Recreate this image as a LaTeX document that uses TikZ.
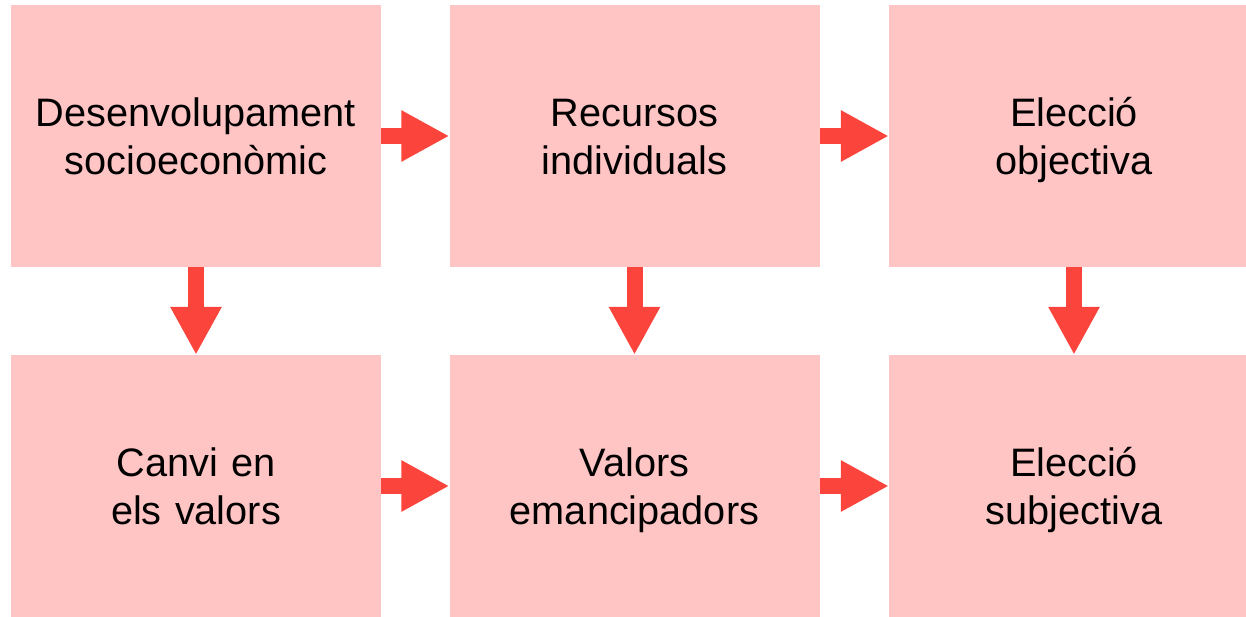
\documentclass[tikz,border=0pt]{standalone}
\usepackage{fontspec}
\setmainfont{Liberation Sans}
\usetikzlibrary{arrows.meta}
\definecolor{boxpink}{RGB}{255,196,196}
\definecolor{arrowred}{RGB}{250,68,60}
\newcommand\linestrut{\rule[-10pt]{0pt}{48pt}}
\begin{document}
\begin{tikzpicture}[x=1pt,y=1pt,
  stagebox/.style={rectangle, fill=boxpink, draw=none, minimum width=370pt, minimum height=262pt, inner sep=0pt, text width=370pt, align=center, font=\fontsize{39.7}{48}\selectfont},
  bigarrow/.style={draw=arrowred, line width=16pt, -{Triangle[length=48pt,width=48pt]}}]
\useasboundingbox (0,0) rectangle (1246,-616);
\node[stagebox] (a) at (196,-136) {\linestrut Desenvolupament\\\linestrut socioeconòmic};
\node[stagebox] (b) at (634.5,-136) {\linestrut Recursos\\\linestrut individuals};
\node[stagebox] (c) at (1074,-136) {\linestrut Elecció\\\linestrut objectiva};
\node[stagebox] (d) at (196,-486) {\linestrut Canvi en\\\linestrut els valors};
\node[stagebox] (e) at (634.5,-486) {\linestrut Valors\\\linestrut emancipadors};
\node[stagebox] (f) at (1074,-486) {\linestrut Elecció\\\linestrut subjectiva};
\draw[bigarrow] (a.east) -- (b.west);
\draw[bigarrow] (b.east) -- (c.west);
\draw[bigarrow] (d.east) -- (e.west);
\draw[bigarrow] (e.east) -- (f.west);
\draw[bigarrow] (a.south) -- (d.north);
\draw[bigarrow] (b.south) -- (e.north);
\draw[bigarrow] (c.south) -- (f.north);
\end{tikzpicture}
\end{document}
